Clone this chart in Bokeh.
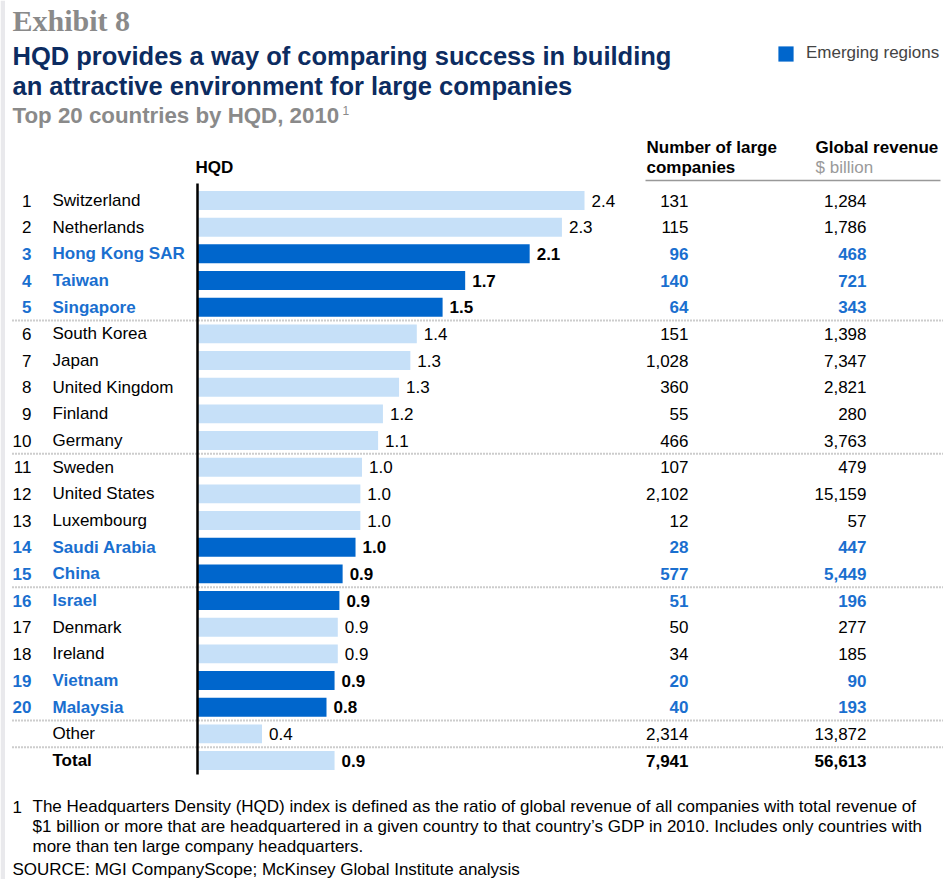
from bokeh.plotting import figure
from bokeh.models import Range1d, ColumnDataSource, Legend, LegendItem
from bokeh.core.properties import value
from bokeh.embed import file_html
from bokeh.resources import INLINE

# ---------------- data ----------------
ranks = [str(i) for i in range(1, 21)] + ["", ""]
countries = ["Switzerland", "Netherlands", "Hong Kong SAR", "Taiwan", "Singapore",
             "South Korea", "Japan", "United Kingdom", "Finland", "Germany",
             "Sweden", "United States", "Luxembourg", "Saudi Arabia", "China",
             "Israel", "Denmark", "Ireland", "Vietnam", "Malaysia", "Other", "Total"]
emerging = [False, False, True, True, True,
            False, False, False, False, False,
            False, False, False, True, True,
            True, False, False, True, True, False, False]
hqd = [2.40, 2.26, 2.06, 1.66, 1.52, 1.36, 1.32, 1.25, 1.15, 1.12,
       1.02, 1.01, 1.01, 0.98, 0.90, 0.88, 0.87, 0.87, 0.85, 0.80, 0.40, 0.85]
hqd_labels = ["2.4", "2.3", "2.1", "1.7", "1.5", "1.4", "1.3", "1.3", "1.2", "1.1",
              "1.0", "1.0", "1.0", "1.0", "0.9", "0.9", "0.9", "0.9", "0.9", "0.8", "0.4", "0.9"]
companies = ["131", "115", "96", "140", "64", "151", "1,028", "360", "55", "466",
             "107", "2,102", "12", "28", "577", "51", "50", "34", "20", "40", "2,314", "7,941"]
revenue = ["1,284", "1,786", "468", "721", "343", "1,398", "7,347", "2,821", "280", "3,763",
           "479", "15,159", "57", "447", "5,449", "196", "277", "185", "90", "193", "13,872", "56,613"]
separators_after = [4, 9, 14, 19, 20]

# ---------------- layout helpers ----------------
W, H = 943, 879
S = 161.25      # px per HQD unit
R = 26.67       # px per row
X0PX, Y0PX = 197, 200
def X(px):  # page px -> data x
    return (px - X0PX) / S
def Y(py):  # page px -> data y (row units)
    return (py - Y0PX) / R

FONT = value("Liberation Sans")
DARK = "#0066cc"
LIGHT = "#c6e0f8"
BLUE_TXT = "#1a6fcf"
NAVY = "#0c2c61"
GRAY = "#8a8a8a"
FS = "17px"

p = figure(width=W, height=H, output_backend="svg", toolbar_location=None,
           x_range=Range1d(X(0), X(W)), y_range=Range1d(Y(H), Y(0)),
           min_border=0, outline_line_color=None, background_fill_color="white")
p.axis.visible = False
p.grid.visible = False

# thin grey page edge at left
p.quad(left=X(0), right=X(4.5), bottom=Y(H), top=Y(0), fill_color="#e9e9ec", line_color=None)

n = len(countries)
rows = list(range(n))
is_bold = [e or c == "Total" for e, c in zip(emerging, countries)]
txt_col = [BLUE_TXT if e else "#000000" for e in emerging]
txt_style = ["bold" if b else "normal" for b in is_bold]

src = ColumnDataSource(dict(row=rows, rank=ranks, country=countries, hqd=hqd,
                            lab=hqd_labels, comp=companies, rev=revenue,
                            tcol=txt_col, tsty=txt_style,
                            labx=[v + 7 / S for v in hqd]))

# bars
light_idx = [i for i in rows if not emerging[i]]
dark_idx = [i for i in rows if emerging[i]]
def sub(idx):
    return ColumnDataSource(dict(row=[rows[i] for i in idx], hqd=[hqd[i] for i in idx]))
p.hbar(y="row", left=0, right="hqd", height=0.71, source=sub(light_idx),
       fill_color=LIGHT, line_color=None)
dark_r = p.hbar(y="row", left=0, right="hqd", height=0.71, source=sub(dark_idx),
                fill_color=DARK, line_color=None)

# separators (dotted)
for i in separators_after:
    p.line([X(12), X(943)], [i + 0.5, i + 0.5], line_color="#9a9a9a",
           line_width=2, line_dash="1 2")

# axis line
p.line([0, 0], [Y(183), Y(774)], line_color="black", line_width=2.5)

# row texts
common = dict(source=src, text_font=FONT, text_font_size=FS, text_baseline="middle",
              text_font_style="tsty")
p.text(x=X(31), y="row", text="rank", text_align="right", text_color="tcol", **common)
p.text(x=X(52), y="row", text="country", text_align="left", text_color="tcol", **common)
p.text(x="labx", y="row", text="lab", text_align="left", text_color="black", **common)
p.text(x=X(688), y="row", text="comp", text_align="right", text_color="tcol", **common)
p.text(x=X(866), y="row", text="rev", text_align="right", text_color="tcol", **common)

# header rule
p.line([X(645), X(940)], [Y(180), Y(180)], line_color="#999999", line_width=1.5)

def T(px, py, s, size, color="black", style="normal", align="left", baseline="middle",
      font=FONT):
    p.text(x=[X(px)], y=[Y(py)], text=[s], text_font=font, text_font_size=size,
           text_color=color, text_font_style=style, text_align=align,
           text_baseline=baseline)

# column headers
T(195, 167, "HQD", FS, style="bold")
T(646, 147, "Number of large", FS, style="bold")
T(646, 167, "companies", FS, style="bold")
T(815, 147, "Global revenue", FS, style="bold")
T(815, 167, "$ billion", FS, color="#9a9a9a")

# titles
T(12, 20, "Exhibit 8", "30px", color=GRAY, style="bold", font=value("Liberation Serif"))
T(12, 55, "HQD provides a way of comparing success in building", "25.5px",
  color=NAVY, style="bold")
T(12, 85, "an attractive environment for large companies", "25.5px",
  color=NAVY, style="bold")
T(12, 115, "Top 20 countries by HQD, 2010", "22.3px", color=GRAY, style="bold")
T(342, 110, "1", "12px", color=GRAY)

# footnote
T(12, 806, "1", FS)
T(32, 806, "The Headquarters Density (HQD) index is defined as the ratio of global revenue of all companies with total revenue of", FS)
T(32, 826, "$1 billion or more that are headquartered in a given country to that country\u2019s GDP in 2010. Includes only countries with", FS)
T(32, 846, "more than ten large company headquarters.", FS)
T(12, 869, "SOURCE: MGI CompanyScope; McKinsey Global Institute analysis", FS)

# legend
leg = Legend(items=[LegendItem(label="Emerging regions", renderers=[dark_r])],
             location=(776, H - 63), glyph_width=19, glyph_height=19,
             label_height=19, label_standoff=11, padding=0, margin=0, spacing=0,
             border_line_color=None, background_fill_alpha=0,
             label_text_font="Liberation Sans", label_text_font_size=FS)
p.add_layout(leg, "center")

open("out.html", "w").write(file_html(p, INLINE))
